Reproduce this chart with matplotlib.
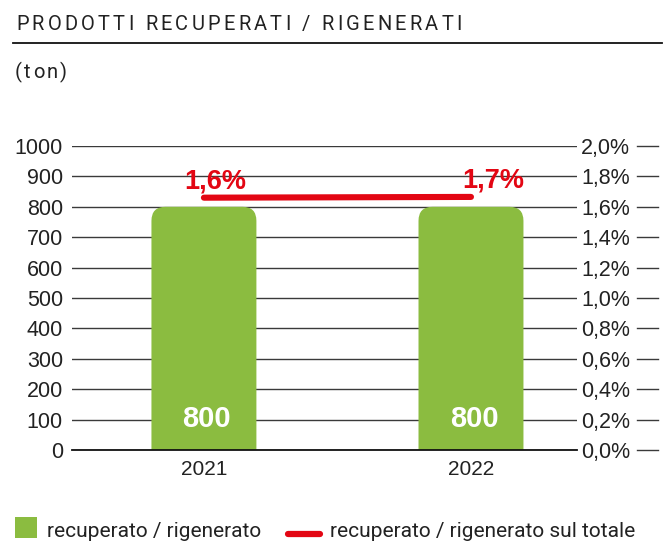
import matplotlib
matplotlib.use("Agg")
import matplotlib.pyplot as plt
from matplotlib.patches import FancyBboxPatch, Rectangle
from matplotlib.lines import Line2D
import matplotlib.transforms as mtransforms
from matplotlib.font_manager import FontProperties, findfont
from matplotlib.ft2font import FT2Font

# ---- data ----
years = ["2021", "2022"]
tons = [800, 800]
pct_labels = ["1,6%", "1,7%"]
pct_line = [1.66, 1.665]          # line position (% of total)
left_ticks = list(range(0, 1001, 100))
right_ticks = [0.0, 0.2, 0.4, 0.6, 0.8, 1.0, 1.2, 1.4, 1.6, 1.8, 2.0]
title = "PRODOTTI RECUPERATI / RIGENERATI"
unit = "(ton)"
legend_labels = ["recuperato / rigenerato", "recuperato / rigenerato sul totale"]

GREEN = "#8BBC40"
RED = "#E30613"
TXT = "#222222"
GRID = "#3a3a3a"

W, H = 665, 542
DPI = 100
fig = plt.figure(figsize=(W / DPI, H / DPI), dpi=DPI)

def fx(px):
    return px / W

def fy(py):
    return 1 - py / H

ax = fig.add_axes([fx(72), fy(450), fx(577) - fx(72), fy(146) - fy(450)])
ax.set_xlim(-0.494, 1.397)
ax.set_ylim(0, 1000)
ax.set_yticks(left_ticks)
ax.set_yticklabels([str(t) for t in left_ticks], family="Liberation Sans", fontsize=15.5, color=TXT)
ax.tick_params(axis="y", length=0, pad=6.5)
ax.set_xticks(range(len(years)))
ax.set_xticklabels(years, family="Liberation Sans", fontsize=15, color=TXT)
ax.tick_params(axis="x", length=0, pad=7)
for s in ["top", "right", "left"]:
    ax.spines[s].set_visible(False)
ax.spines["bottom"].set_color("#111111")
ax.spines["bottom"].set_linewidth(1.3)
ax.yaxis.grid(True, color=GRID, linewidth=1.0)
ax.set_axisbelow(True)

# bars (with rounded tops)
bars = ax.bar(range(len(years)), tons, width=0.393, color=GREEN)
fig.canvas.draw()
(x0p, y0p), (x1p, y1p) = ax.transData.transform([(0, 0), (1, 1000)])
xper = 1 / (x1p - x0p)
yper = 1000 / (y1p - y0p)
aspect = yper / xper
r_px = 14
for rect in bars:
    rect.set_visible(False)
    ext = 60
    p = FancyBboxPatch((rect.get_x(), -ext), rect.get_width(), rect.get_height() + ext,
                       boxstyle=f"round,pad=0,rounding_size={r_px * xper}",
                       mutation_aspect=aspect, facecolor=GREEN, edgecolor="none", zorder=2)
    ax.add_patch(p)

for i, v in enumerate(tons):
    ax.annotate(str(v), xy=(i, 0), xytext=(3, 23), textcoords="offset pixels",
                ha="center", va="baseline", color="white", fontsize=21,
                fontweight="bold", family="Liberation Sans", zorder=4)

# right axis
ax2 = ax.twinx()
ax2.set_xlim(ax.get_xlim())
ax2.set_ylim(0, 2.0)
ax2.set_yticks(right_ticks)
ax2.set_yticklabels([f"{t:.1f}%".replace(".", ",") for t in right_ticks],
                    family="Liberation Sans", fontsize=15.5, color=TXT)
ax2.tick_params(axis="y", length=0, pad=3)
for s in ax2.spines.values():
    s.set_visible(False)

ax2.plot(range(len(years)), pct_line, color=RED, linewidth=4.4,
         solid_capstyle="round", zorder=5)
offsets = [(11, 9), (22, 9)]
for i, (lab, v) in enumerate(zip(pct_labels, pct_line)):
    ax2.annotate(lab, xy=(i, v), xytext=offsets[i], textcoords="offset pixels",
                 ha="center", va="baseline", color=RED, fontsize=19.5,
                 fontweight="bold", family="Liberation Sans", zorder=6)

# short tick lines after right labels
tr = mtransforms.blended_transform_factory(fig.transFigure, ax.transData)
for t in left_ticks:
    ax.plot([fx(637), fx(658)], [t, t], transform=tr, color=GRID, linewidth=1.0,
            clip_on=False)

# tracked text helper using glyph advances
def tracked_text(x_px, y_px, s, total_px, family, size, **kw):
    font = FT2Font(findfont(FontProperties(family=family)))
    font.set_size(size, DPI)
    adv = []
    for ch in s:
        g = font.load_char(ord(ch))
        adv.append(g.linearHoriAdvance / 65536)
    tracking = (total_px - sum(adv)) / (len(s) - 1)
    x = x_px
    for ch, a in zip(s, adv):
        if ch != " ":
            fig.text(fx(x), fy(y_px), ch, va="baseline", ha="left",
                     family=family, fontsize=size, **kw)
        x += a + tracking

tracked_text(16, 30, title, 446, "Roboto", 14.5, color=TXT)
fig.add_artist(Line2D([fx(13), fx(662)], [fy(43), fy(43)], color="#111111", linewidth=1.3))
tracked_text(15, 78, unit, 52, "Roboto", 14.5, color=TXT)

# legend
fig.add_artist(Rectangle((fx(15), fy(538)), fx(37) - fx(15), fy(517) - fy(538),
                         facecolor=GREEN, edgecolor="none"))
fig.text(fx(47), fy(537), legend_labels[0], family="Roboto", fontsize=15,
         color=TXT, va="baseline")
fig.add_artist(Line2D([fx(288), fx(320)], [fy(534), fy(534)], color=RED, linewidth=4.5,
                      solid_capstyle="round"))
fig.text(fx(330), fy(537), legend_labels[1], family="Roboto", fontsize=15,
         color=TXT, va="baseline")

fig.savefig("out.png", dpi=DPI)
